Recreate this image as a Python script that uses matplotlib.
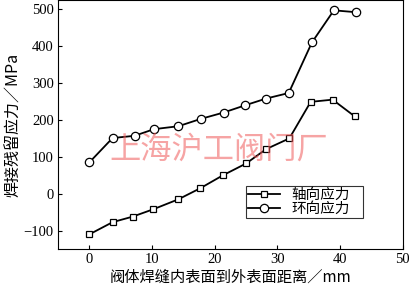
import matplotlib
matplotlib.use("Agg")
import matplotlib.pyplot as plt

plt.rcParams['font.family'] = ['Liberation Serif', 'Noto Sans CJK SC', 'DejaVu Sans']

# distance from inner surface (mm)
x_axial = [0, 3.7, 6.9, 10.2, 14.2, 17.7, 21.3, 25.0, 28.2, 31.9, 35.3, 38.8, 42.3]
y_axial = [-110, -77, -62, -42, -15, 15, 50, 82, 121, 150, 249, 255, 210]

x_hoop = [0, 3.7, 7.2, 10.3, 14.2, 17.8, 21.4, 24.9, 28.2, 31.8, 35.5, 39.0, 42.5]
y_hoop = [85, 151, 157, 175, 183, 203, 220, 240, 258, 273, 410, 497, 492]

labels = ['轴向应力', '环向应力']
xticks = [0, 10, 20, 30, 40, 50]
yticks = [-100, 0, 100, 200, 300, 400, 500]

cjk = ['Noto Sans CJK SC', 'DejaVu Sans']

fig = plt.figure(figsize=(4.1, 2.88), dpi=100)
ax = fig.add_axes([0.1415, 0.135, 0.841, 0.865])

ax.plot(x_axial, y_axial, '-s', color='black', lw=1.3, ms=5,
        mfc='white', mec='black', mew=0.9, label=labels[0])
ax.plot(x_hoop, y_hoop, '-o', color='black', lw=1.3, ms=6,
        mfc='white', mec='black', mew=0.9, label=labels[1])

ax.set_xlim(-5, 50)
ax.set_ylim(-150, 525)
ax.set_xticks(xticks)
ax.set_yticks(yticks)
ax.tick_params(direction='in', length=3, labelsize=10.5, width=0.8, pad=3)
ax.set_yticklabels([str(v).replace('-', '\u2212') for v in yticks])

ax.set_xlabel('阀体焊缝内表面到外表面距离／mm', family=cjk, fontsize=11, labelpad=2)
ax.set_ylabel('焊接残留应力／MPa', family=cjk, fontsize=11.5, labelpad=1)

leg = ax.legend(loc='lower left', bbox_to_anchor=(0.545, 0.125, 0.34, 0.125),
                mode='expand', prop={'family': cjk, 'size': 10.5},
                frameon=True, fancybox=False, edgecolor='black',
                handlelength=2.2, handletextpad=0.8, borderpad=0.12,
                labelspacing=0.0, borderaxespad=0)
leg.get_frame().set_linewidth(0.8)

ax.text(0.15, 0.365, '上海沪工阀门厂', transform=ax.transAxes, family=cjk,
        fontsize=22.5, color='#f05a5a', alpha=0.55)

fig.savefig('out.png', dpi=100)
